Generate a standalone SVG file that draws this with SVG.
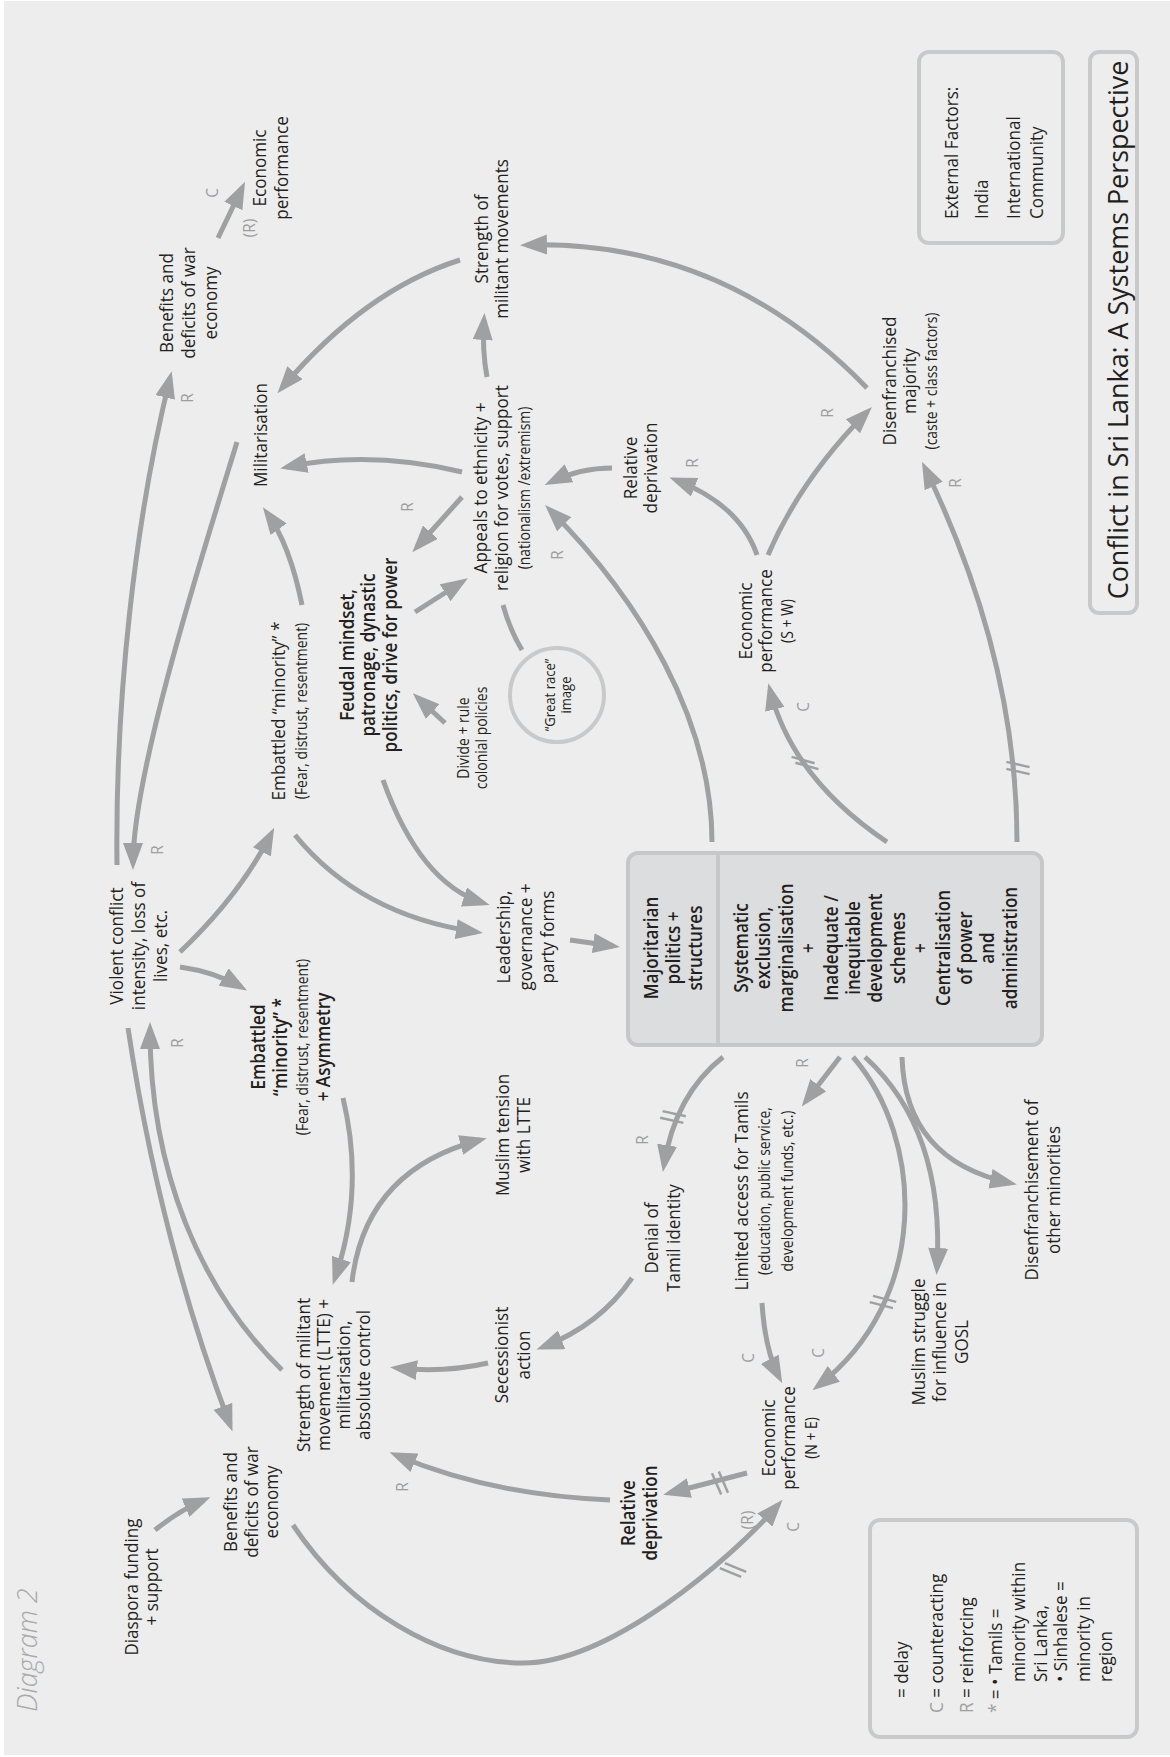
<svg xmlns="http://www.w3.org/2000/svg" width="1170" height="1757" viewBox="0 0 1170 1757">
<defs>
<style>
.t{font-family:"Open Sans","Noto Sans","DejaVu Sans",sans-serif;font-size:19px;fill:#231f20;text-anchor:middle}
.s{font-size:15.5px}
.b{font-weight:600}
.st{text-anchor:start}
.g{fill:#9c9ea0}
.lab{font-family:"Open Sans","Noto Sans",sans-serif;font-size:17px;fill:#9c9ea0;text-anchor:middle}
.c{fill:none;stroke:#9fa0a2;stroke-width:5;marker-end:url(#ah)}
.l{fill:none;stroke:#9fa0a2;stroke-width:5}
.d{fill:none;stroke:#9fa0a2;stroke-width:2.5}
.bx{fill:none;stroke:#c8c9cb;stroke-width:4}
</style>
<marker id="ah" viewBox="0 0 27 20" markerWidth="27" markerHeight="20" refX="20" refY="10" orient="auto" markerUnits="userSpaceOnUse"><path d="M0,0 L27,10 L0,20 Z" fill="#9fa0a2"/></marker>
</defs>
<rect x="0" y="0" width="1170" height="1757" fill="#ffffff"/>
<rect x="4" y="1" width="1166" height="1754" fill="#ecedec"/>

<g id="connectors">
<path class="c" d="M218,238 L242,188"/>
<path class="c" d="M117,865 C115,700 135,520 170,378"/>
<path class="c" d="M237,442 C207,540 133,770 133,863"/>
<path class="c" d="M460,260 Q365,290 282,388"/>
<path class="c" d="M487,377 Q482,350 484,320"/>
<path class="c" d="M867,388 Q724,240 527,245"/>
<path class="c" d="M462,472 Q370,450 287,467"/>
<path class="c" d="M462,497 L417,547"/>
<path class="c" d="M415,612 L462,582"/>
<path class="c" d="M445,723 L418,698"/>
<path class="c" d="M302,605 Q290,545 267,513"/>
<path class="c" d="M180,952 Q240,895 271,834"/>
<path class="c" d="M295,835 Q360,915 476,932"/>
<path class="c" d="M383,780 Q420,883 483,903"/>
<path class="c" d="M570,940 L613,946"/>
<path class="c" d="M712,842 C712,720 640,600 550,510"/>
<path class="c" d="M612,468 Q580,468 551,482"/>
<path class="c" d="M757,555 Q740,505 676,480"/>
<path class="c" d="M768,555 Q800,480 867,412"/>
<path class="c" d="M887,842 Q792,778 770,690"/>
<path class="c" d="M1017,842 Q1017,658 925,468"/>
<path class="c" d="M128,1028 Q160,1240 230,1425"/>
<path class="c" d="M282,1370 C200,1290 150,1170 150,1029"/>
<path class="c" d="M180,967 Q215,972 241,987"/>
<path class="c" d="M343,1098 Q365,1190 335,1278"/>
<path class="c" d="M352,1282 Q365,1170 480,1140"/>
<path class="c" d="M723,1057 Q675,1095 664,1165"/>
<path class="c" d="M840,1057 L806,1101"/>
<path class="c" d="M902,1057 Q905,1160 1010,1183"/>
<path class="c" d="M865,1057 Q945,1130 937,1268"/>
<path class="c" d="M853,1057 C925,1140 930,1300 818,1386"/>
<path class="c" d="M762,1303 Q765,1350 779,1377"/>
<path class="c" d="M747,1473 L670,1493"/>
<path class="c" d="M293,1525 C350,1610 440,1663 523,1663 C610,1663 730,1560 778,1505"/>
<path class="c" d="M155,1530 Q180,1510 204,1500"/>
<path class="c" d="M632,1278 Q600,1325 543,1347"/>
<path class="c" d="M488,1363 Q445,1373 397,1368"/>
<path class="c" d="M610,1500 Q490,1495 396,1455"/>
<path class="l" d="M522,650 Q510,630 503,605"/>
<!-- delay marks -->
<path class="d" d="M791.6,756.9 L814.6,763.3 M795.4,762.7 L818.4,769.1"/>
<path class="d" d="M1006.4,761.9 L1029.6,767.1 M1006.4,768.9 L1029.6,774.1"/>
<path class="d" d="M662.6,1111.1 L685.8,1116.3 M660.2,1117.7 L683.4,1122.9"/>
<path class="d" d="M873,1295.9 L896.2,1301.9 M869.8,1302.1 L893,1308.1"/>
<path class="d" d="M718.8,1471.5 L728,1492.7 M712,1473.3 L721.2,1494.5"/>
<path class="d" d="M719.8,1568.2 L741.2,1576.8 M724.8,1563.2 L746.2,1571.8"/>
<!-- loop labels -->
<text class="lab" transform="translate(193,398) rotate(-90) scale(0.9,1)">R</text>
<text class="lab" transform="translate(218,193) rotate(-90) scale(0.9,1)">C</text>
<text class="lab" transform="translate(255,228) rotate(-90) scale(0.9,1)">(R)</text>
<text class="lab" transform="translate(163,850) rotate(-90) scale(0.9,1)">R</text>
<text class="lab" transform="translate(413,507) rotate(-90) scale(0.9,1)">R</text>
<text class="lab" transform="translate(563,555) rotate(-90) scale(0.9,1)">R</text>
<text class="lab" transform="translate(698,463) rotate(-90) scale(0.9,1)">R</text>
<text class="lab" transform="translate(809,707) rotate(-90) scale(0.9,1)">C</text>
<text class="lab" transform="translate(833,413) rotate(-90) scale(0.9,1)">R</text>
<text class="lab" transform="translate(961,483) rotate(-90) scale(0.9,1)">R</text>
<text class="lab" transform="translate(183,1043) rotate(-90) scale(0.9,1)">R</text>
<text class="lab" transform="translate(648,1140) rotate(-90) scale(0.9,1)">R</text>
<text class="lab" transform="translate(808,1063) rotate(-90) scale(0.9,1)">R</text>
<text class="lab" transform="translate(754,1358) rotate(-90) scale(0.9,1)">C</text>
<text class="lab" transform="translate(824,1353) rotate(-90) scale(0.9,1)">C</text>
<text class="lab" transform="translate(753,1520) rotate(-90) scale(0.9,1)">(R)</text>
<text class="lab" transform="translate(799,1527) rotate(-90) scale(0.9,1)">C</text>
<text class="lab" transform="translate(408,1487) rotate(-90) scale(0.9,1)">R</text>
</g>

<g id="title">
<rect class="bx" x="1090" y="52" width="47" height="561" rx="9"/>
<text class="t" style="font-size:28px" transform="translate(1128,330) rotate(-90) scale(0.96,1)">Conflict in Sri Lanka: A Systems Perspective</text>
</g>

<g id="external-factors">
<rect class="bx" x="919" y="52" width="144" height="191" rx="10"/>
<text class="t st" transform="translate(958,219) rotate(-90) scale(0.9,1)"><tspan x="0" y="0">External Factors:</tspan><tspan x="0" y="30">India</tspan><tspan x="0" y="62">International</tspan><tspan x="0" y="85">Community</tspan></text>
</g>

<g id="diagram-label">
<text class="t" style="font-size:27px;font-style:italic;font-weight:300;fill:#a7a9ab" transform="translate(37,1650) rotate(-90)">Diagram 2</text>
</g>

<g id="n-benefits-top" transform="translate(173,303) rotate(-90) scale(0.9,1)"><text class="t"><tspan x="0" y="0">Benefits and</tspan><tspan x="0" y="22">deficits of war</tspan><tspan x="0" y="44">economy</tspan></text></g>
<g id="n-econ-top" transform="translate(266,168) rotate(-90) scale(0.9,1)"><text class="t"><tspan x="0" y="0">Economic</tspan><tspan x="0" y="22">performance</tspan></text></g>
<g id="n-militarisation" transform="translate(267,435) rotate(-90) scale(0.9,1)"><text class="t">Militarisation</text></g>
<g id="n-strength-militant" transform="translate(488,239) rotate(-90) scale(0.9,1)"><text class="t"><tspan x="0" y="0">Strength of</tspan><tspan x="0" y="20">militant movements</tspan></text></g>
<g id="n-disenfranchised-majority" transform="translate(896,381) rotate(-90) scale(0.9,1)"><text class="t"><tspan x="0" y="0">Disenfranchised</tspan><tspan x="0" y="20">majority</tspan><tspan class="s" x="0" y="41">(caste + class factors)</tspan></text></g>
<g id="n-appeals" transform="translate(487,488) rotate(-90) scale(0.9,1)"><text class="t"><tspan x="0" y="0">Appeals to ethnicity +</tspan><tspan x="0" y="21">religion for votes, support</tspan><tspan class="s" x="0" y="43">(nationalism /extremism)</tspan></text></g>
<g id="n-divide" transform="translate(469,738) rotate(-90) scale(0.9,1)"><text class="t s"><tspan x="0" y="0">Divide + rule</tspan><tspan x="0" y="18">colonial policies</tspan></text></g>
<g id="n-great-race">
<circle cx="557" cy="695" r="47" fill="none" stroke="#c8c9cb" stroke-width="4"/>
<text class="t s" style="font-size:14.5px" transform="translate(555,695) rotate(-90) scale(0.9,1)"><tspan x="0" y="0">“Great race”</tspan><tspan x="0" y="16">image</tspan></text>
</g>
<g id="n-feudal" transform="translate(354,655) rotate(-90) scale(0.9,1)"><text class="t b"><tspan x="0" y="0">Feudal mindset,</tspan><tspan x="0" y="21.5">patronage, dynastic</tspan><tspan x="0" y="43">politics, drive for power</tspan></text></g>
<g id="n-embattled-top" transform="translate(285,711) rotate(-90) scale(0.9,1)"><text class="t"><tspan x="0" y="0">Embattled “minority” *</tspan><tspan class="s" x="0" y="22">(Fear, distrust, resentment)</tspan></text></g>
<g id="n-leadership" transform="translate(510,937) rotate(-90) scale(0.9,1)"><text class="t"><tspan x="0" y="0">Leadership,</tspan><tspan x="0" y="22">governance +</tspan><tspan x="0" y="44">party forms</tspan></text></g>
<g id="n-relative-top" transform="translate(637,468) rotate(-90) scale(0.9,1)"><text class="t"><tspan x="0" y="0">Relative</tspan><tspan x="0" y="20">deprivation</tspan></text></g>
<g id="n-econ-sw" transform="translate(752,621) rotate(-90) scale(0.9,1)"><text class="t"><tspan x="0" y="0">Economic</tspan><tspan x="0" y="20">performance</tspan><tspan class="s" x="0" y="41">(S + W)</tspan></text></g>

<g id="n-central">
<rect x="628" y="853" width="414" height="192" rx="10" fill="#dcdddf" stroke="#c6c7c9" stroke-width="4"/>
<line x1="718" y1="853" x2="718" y2="1045" stroke="#c6c7c9" stroke-width="4"/>
<text class="t b" transform="translate(658,948) rotate(-90) scale(0.9,1)"><tspan x="0" y="0">Majoritarian</tspan><tspan x="0" y="22">politics +</tspan><tspan x="0" y="44">structures</tspan></text>
<text class="t b" transform="translate(748,948) rotate(-90) scale(0.9,1)"><tspan x="0" y="0">Systematic</tspan><tspan x="0" y="22.4">exclusion,</tspan><tspan x="0" y="44.8">marginalisation</tspan><tspan x="0" y="67.2">+</tspan><tspan x="0" y="89.6">Inadequate /</tspan><tspan x="0" y="112">inequitable</tspan><tspan x="0" y="134.4">development</tspan><tspan x="0" y="156.8">schemes</tspan><tspan x="0" y="179.2">+</tspan><tspan x="0" y="201.6">Centralisation</tspan><tspan x="0" y="224">of power</tspan><tspan x="0" y="246.4">and</tspan><tspan x="0" y="268.8">administration</tspan></text>
</g>

<g id="n-violent" transform="translate(123,946) rotate(-90) scale(0.9,1)"><text class="t"><tspan x="0" y="0">Violent conflict</tspan><tspan x="0" y="22">intensity, loss of</tspan><tspan x="0" y="44">lives, etc.</tspan></text></g>
<g id="n-embattled-bottom" transform="translate(265,1047) rotate(-90) scale(0.9,1)"><text class="t"><tspan class="b" x="0" y="0">Embattled</tspan><tspan class="b" x="0" y="22">“minority” *</tspan><tspan class="s" x="0" y="43">(Fear, distrust, resentment)</tspan><tspan class="b" x="0" y="65">+ Asymmetry</tspan></text></g>
<g id="n-muslim-tension" transform="translate(509,1135) rotate(-90) scale(0.9,1)"><text class="t"><tspan x="0" y="0">Muslim tension</tspan><tspan x="0" y="21">with LTTE</tspan></text></g>
<g id="n-denial" transform="translate(658,1238) rotate(-90) scale(0.9,1)"><text class="t"><tspan x="0" y="0">Denial of</tspan><tspan x="0" y="22">Tamil identity</tspan></text></g>
<g id="n-limited" transform="translate(748,1191) rotate(-90) scale(0.9,1)"><text class="t"><tspan x="0" y="0">Limited access for Tamils</tspan><tspan class="s" x="0" y="22">(education, public service,</tspan><tspan class="s" x="0" y="45">development funds, etc.)</tspan></text></g>
<g id="n-disenf-minorities" transform="translate(1038,1190) rotate(-90) scale(0.9,1)"><text class="t"><tspan x="0" y="0">Disenfranchisement of</tspan><tspan x="0" y="22">other minorities</tspan></text></g>
<g id="n-muslim-struggle" transform="translate(925,1342) rotate(-90) scale(0.9,1)"><text class="t"><tspan x="0" y="0">Muslim struggle</tspan><tspan x="0" y="21.5">for influence in</tspan><tspan x="0" y="43">GOSL</tspan></text></g>
<g id="n-econ-ne" transform="translate(775,1438) rotate(-90) scale(0.9,1)"><text class="t"><tspan x="0" y="0">Economic</tspan><tspan x="0" y="20">performance</tspan><tspan class="s" x="0" y="42">(N + E)</tspan></text></g>
<g id="n-benefits-bottom" transform="translate(237,1502) rotate(-90) scale(0.9,1)"><text class="t"><tspan x="0" y="0">Benefits and</tspan><tspan x="0" y="21">deficits of war</tspan><tspan x="0" y="41">economy</tspan></text></g>
<g id="n-diaspora" transform="translate(138,1587) rotate(-90) scale(0.9,1)"><text class="t"><tspan x="0" y="0">Diaspora funding</tspan><tspan x="0" y="20">+ support</tspan></text></g>
<g id="n-ltte" transform="translate(310,1375) rotate(-90) scale(0.9,1)"><text class="t"><tspan x="0" y="0">Strength of militant</tspan><tspan x="0" y="20">movement (LTTE) +</tspan><tspan x="0" y="40">militarisation,</tspan><tspan x="0" y="60">absolute control</tspan></text></g>
<g id="n-secessionist" transform="translate(508,1355) rotate(-90) scale(0.9,1)"><text class="t"><tspan x="0" y="0">Secessionist</tspan><tspan x="0" y="22">action</tspan></text></g>
<g id="n-relative-bottom" transform="translate(635,1513) rotate(-90) scale(0.9,1)"><text class="t b"><tspan x="0" y="0">Relative</tspan><tspan x="0" y="22">deprivation</tspan></text></g>

<g id="legend">
<rect class="bx" x="870" y="1520" width="267" height="217" rx="10"/>
<text class="t st" transform="translate(908,1713) rotate(-90) scale(0.9,1)"><tspan x="16.7" y="0">= delay</tspan><tspan x="0" y="35"><tspan class="g">C</tspan> = counteracting</tspan><tspan x="0" y="65"><tspan class="g">R</tspan> = reinforcing</tspan><tspan x="0" y="94"><tspan class="g">*</tspan> = • Tamils =</tspan><tspan x="34.4" y="117">minority within</tspan><tspan x="34.4" y="139">Sri Lanka,</tspan><tspan x="34.4" y="159">• Sinhalese =</tspan><tspan x="34.4" y="182">minority in</tspan><tspan x="34.4" y="204">region</tspan></text>
</g>
</svg>
